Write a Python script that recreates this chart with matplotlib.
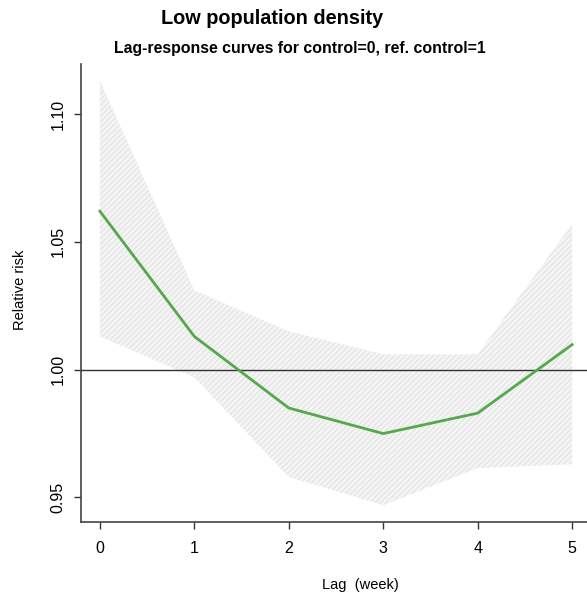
import numpy as np
import matplotlib.pyplot as plt

plt.rcParams['font.family'] = ['Liberation Sans', 'DejaVu Sans']
plt.rcParams['hatch.linewidth'] = 0.6

# Data
lag = [0, 1, 2, 3, 4, 5]
rr = [1.062, 1.013, 0.985, 0.975, 0.983, 1.0098]
rr_low = [1.013, 0.997, 0.958, 0.947, 0.9615, 0.963]
rr_high = [1.113, 1.031, 1.015, 1.006, 1.006, 1.057]
yticks = [0.95, 1.00, 1.05, 1.10]

fig = plt.figure(figsize=(5.87, 5.97), dpi=100)
ax = fig.add_axes([81/587, 75/597, 510/587, 458/597])

# confidence band, grey with fine hatch
ax.fill_between(lag, rr_low, rr_high, facecolor='#f4f4f4', edgecolor='#dedede',
                hatch='//////', linewidth=0)
ax.axhline(1.0, color='#333333', lw=1.0)
ax.plot(lag, rr, color='#56a84c', lw=2.0)

ax.set_xlim(-0.2, 5.2)
ax.set_ylim(0.9404, 1.1196)
ax.set_xticks(lag)
ax.set_yticks(yticks)
ax.set_yticklabels(['%.2f' % t for t in yticks], rotation=90, va='center')
ax.tick_params(direction='out', length=5, width=1, labelsize=11.5, color='#333333')
ax.tick_params(axis='x', pad=9)
ax.tick_params(axis='y', pad=6)

for s in ['top', 'right']:
    ax.spines[s].set_visible(False)
for s in ['left', 'bottom']:
    ax.spines[s].set_color('#444444')
    ax.spines[s].set_linewidth(1.2)

fig.text(272/587, 1 - 19/597, 'Low population density', ha='center', va='center',
         fontsize=14.3, fontweight='bold')
fig.text(300/587, 1 - 48/597, 'Lag-response curves for control=0, ref. control=1',
         ha='center', va='center', fontsize=11.4, fontweight='bold')
fig.text(20/587, 1 - 290/597, 'Relative risk', rotation=90, ha='center', va='center',
         fontsize=10.5)
fig.text(360/587, 1 - 585/597, 'Lag  (week)', ha='center', va='center', fontsize=10.5)

fig.savefig('out.png', dpi=100)
